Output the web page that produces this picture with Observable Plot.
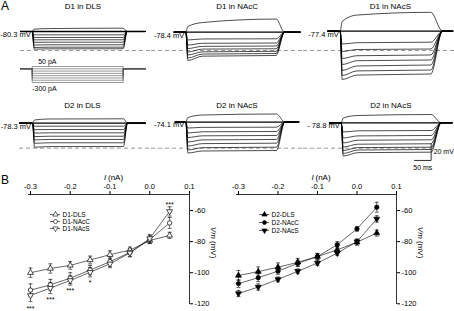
<!DOCTYPE html>
<html><head><meta charset="utf-8">
<script src="https://cdn.jsdelivr.net/npm/d3@7"></script>
<script src="https://cdn.jsdelivr.net/npm/@observablehq/plot@0.6"></script>
<style>
html,body{margin:0;padding:0;background:#fff;}
#fig{position:relative;width:454px;height:311px;overflow:hidden;font-family:"Liberation Sans",Arial,sans-serif;color:#000;}
.letter{position:absolute;font-size:12px;line-height:12px;}
</style></head><body><div id="fig"></div>
<script>
// ---------------- Part A : voltage traces ----------------
const cellTitles = [["D1 in DLS","D1 in NAcC","D1 in NAcS"],["D2 in DLS","D2 in NAcS","D2 in NAcS"]];
const restLabels = [["-80.3 mV","-78.4 mV","-77.4 mV"],["-78.3 mV","-74.1 mV","- 78.8 mV"]];
const traceStart = [[60,68,73],[57,71,78]];
const stepOn     = [[95,103,110],[96,103,113]];
const stepOff    = [[368,374,382],[369,375,383]];
const traceEnd   = [[435,446,448],[435,442,446]];
const recoverMs  = [[12,25,35],[12,25,30]];
const sampleMs   = [6,50];           // sample times after onset for early / mid values
// drawn resting level (mV, row-shared scale)
const restVm = [[-80.3,-81.1,-79.9],[-78.3,-76.9,-77.8]];
// membrane potential per sweep: early (sag), mid, end of step  (mV)
const vEarly = [
  [-77.5,-84.3,-87.6,-90.4,-93.4,-96.6,-99.6,-101.6],
  [-74.3,-90.5,-96.6,-100.8,-105.0,-108.6,-112.2,-115.2],
  [-68.3,-95.4,-104.4,-112.8,-120.1,-127.3,-133.3,-138.1],
  [-74.4,-82.0,-86.1,-90.2,-94.4,-98.4,-102.5,-107.2],
  [-71.4,-84.1,-90.1,-95.5,-100.9,-105.8,-110.6,-114.2],
  [-72.0,-88.9,-96.1,-102.1,-107.0,-111.2,-114.8,-117.8]];
const vMid = [
  [-76.8,-84.3,-87.5,-90.3,-93.2,-96.3,-99.2,-101.2],
  [-69.5,-89.3,-94.5,-98.2,-101.5,-104.8,-107.5,-110.0],
  [-60.5,-93.8,-102.0,-109.5,-115.5,-121.8,-127.8,-132.8],
  [-73.2,-81.9,-85.9,-89.9,-94.0,-97.9,-101.9,-106.5],
  [-68.4,-83.3,-88.6,-93.5,-98.4,-102.9,-107.8,-111.8],
  [-69.0,-87.5,-93.6,-98.8,-103.6,-107.7,-110.6,-113.8]];
const vEnd = [
  [-76.3,-84.3,-87.5,-90.3,-93.2,-96.3,-99.2,-101.1],
  [-65.3,-89.1,-94.2,-97.8,-101.1,-104.2,-106.8,-109.2],
  [-57.2,-93.2,-101.4,-108.6,-114.6,-120.7,-126.7,-131.5],
  [-73.0,-81.9,-85.9,-89.9,-94.0,-97.9,-101.9,-106.4],
  [-67.2,-83.1,-88.3,-93.1,-97.9,-102.4,-107.2,-111.2],
  [-67.8,-87.1,-93.1,-98.3,-103.1,-107.2,-110.0,-113.2]];
const dashVm   = [-103.2,-108.4];
const dashFrom = [[60,0,0],[57,0,0]];
const dashTo   = [[454,454,454],[454,454,383]];
const rowTop = [0,98], rowHeight = [95,72];
const rowYDomain = [[-157.4,-42.95],[-135.3,-48.5]];
const cellMs = [0,454];
const scaleBar = {t1:333, t2:383, v1:-123.2, v2:-103.2, vLabel:"20 mV", tLabel:"50 ms"};

// current step inset (pA)
const injected_pA = [50,0,-50,-100,-150,-200,-250,-300];

// ---------------- Part B : I–V curves ----------------
const currentNA = [-0.3,-0.25,-0.2,-0.15,-0.1,-0.05,0,0.05];
const d1Names = ["D1-DLS","D1-NAcC","D1-NAcS"];
const d1DLS  = [-100,-97.3,-95.3,-91.8,-88.4,-85.5,-79.3,-76];
const d1NAcC = [-111.2,-107.8,-103.5,-98.3,-92.9,-87,-78.7,-68];
const d1NAcS = [-114.6,-109.9,-105,-99.7,-94.3,-87.3,-78,-60.6];
const d1DLSErr  = [3,3,2.5,2.5,2.5,2,2,2];
const d1NAcCErr = [4,3.5,3.5,3,3,2.5,2.5,3.5];
const d1NAcSErr = [4,3.5,3,3,2.5,2.5,2.5,3];
const d2Names = ["D2-DLS","D2-NAcC","D2-NAcS"];
const d2DLS  = [-101.8,-99.3,-96.5,-93.3,-89.6,-85.3,-80.4,-74.5];
const d2NAcC = [-107,-103.2,-99,-94,-89.6,-82,-71.8,-57.9];
const d2NAcS = [-113.4,-109.2,-104.3,-99.1,-93.8,-87.4,-80,-65.4];
const d2DLSErr  = [3.2,3,2.8,2.5,2,2,2,2];
const d2NAcCErr = [2.5,2.5,2,2,2,2,1.5,3.2];
const d2NAcSErr = [2,2,1.5,1.5,1.5,1.5,1.5,2];
const starNA   = [-0.3,-0.25,-0.2,-0.15,0.05];
const starText = ["***","***","***","*","***"];
const starVm   = [-123,-117.3,-111.6,-106.5,-56.5];
const xTicks = [-0.3,-0.2,-0.1,0,0.1];
const yTicks = [-60,-80,-100,-120];
const ivYDomain = [-120.45,-49.7];
const ivXDomain = [-0.305,0.1];

// ---------------- helpers ----------------
const FONT = '"Liberation Sans", Arial, sans-serif';
const fig = document.getElementById("fig");
function place(el, left, top){ el.style.position="absolute"; el.style.left=left+"px"; el.style.top=top+"px"; fig.appendChild(el); }
const triDown = {draw(ctx, size){ const s3=Math.sqrt(3); const y=-Math.sqrt(size/(s3*3)); ctx.moveTo(0,-y*2); ctx.lineTo(-s3*y,y); ctx.lineTo(s3*y,y); ctx.closePath(); }};
const baseStyle = {background:"transparent", overflow:"visible", fontFamily:FONT};

// ---------------- Part A cells ----------------
const cellW = 454/3;
for (let r=0;r<2;r++) for (let c=0;c<3;c++){
  const id = r*3+c;
  const rest = restVm[r][c], on = stepOn[r][c], off = stepOff[r][c];
  const t0 = traceStart[r][c], t1 = traceEnd[r][c], rec = recoverMs[r][c];
  const pts = [];
  vEnd[id].forEach((ve,k)=>{
    [[t0,rest],[on,rest],[on+sampleMs[0],vEarly[id][k]],[on+sampleMs[1],vMid[id][k]],[off,ve],[off+rec,rest],[t1,rest]]
      .forEach(([t,v])=>pts.push({k,t,v}));
  });
  const marks = [
    Plot.ruleY([dashVm[r]], {x1:dashFrom[r][c], x2:dashTo[r][c], stroke:"#808080", strokeWidth:0.8, strokeDasharray:"4,3"}),
    Plot.line(pts, {x:"t", y:"v", z:"k", curve:"monotone-x", stroke:"#000", strokeWidth:0.7}),
    Plot.ruleY([rest], {x1:t0, x2:t1, stroke:"#000", strokeWidth:1.3}),
    Plot.text([cellTitles[r][c]], {x:(t0+t1)/2, frameAnchor:"top", dy: r===0?6:7, lineAnchor:"middle", fontSize:8}),
    Plot.text([restLabels[r][c]], {x:on, y:rest, dx:-1.5, dy:3, textAnchor:"end", lineAnchor:"middle", fontSize:7.5})
  ];
  if (r===1 && c===2){
    marks.push(Plot.line([[scaleBar.t2,scaleBar.v2],[scaleBar.t2,scaleBar.v1],[scaleBar.t1,scaleBar.v1]], {stroke:"#000", strokeWidth:0.8}));
    marks.push(Plot.text([scaleBar.vLabel], {x:scaleBar.t2, y:(scaleBar.v1+scaleBar.v2)/2, dx:2.5, textAnchor:"start", lineAnchor:"middle", fontSize:7}));
    marks.push(Plot.text([scaleBar.tLabel], {x:(scaleBar.t1+scaleBar.t2)/2, y:scaleBar.v1, dy:7, lineAnchor:"middle", fontSize:7}));
  }
  const p = Plot.plot({
    width: cellW, height: rowHeight[r], margin:0,
    x:{domain:cellMs, axis:null}, y:{domain:rowYDomain[r], axis:null},
    style: baseStyle, marks
  });
  place(p, c*cellW, rowTop[r]);
}

// current inset under D1 in DLS
{
  const on = stepOn[0][0], off = stepOff[0][0], t0 = traceStart[0][0], t1 = traceEnd[0][0];
  const pts = [];
  injected_pA.forEach((I,k)=>[[t0,0],[on,0],[on,I],[off,I],[off,0],[t1,0]].forEach(([t,v])=>pts.push({k,t,v})));
  const p = Plot.plot({
    width: cellW, height: 38, margin:0,
    x:{domain:cellMs, axis:null}, y:{domain:[-540,291], axis:null},
    style: baseStyle,
    marks:[
      Plot.line(pts, {x:"t", y:"v", z:"k", stroke:"#555", strokeWidth:0.6}),
      Plot.text(["50 pA"], {x:on, y:injected_pA[0], dx:6, dy:-4.5, textAnchor:"start", lineAnchor:"middle", fontSize:7}),
      Plot.text(["-300 pA"], {x:on, y:injected_pA[injected_pA.length-1], dx:0, dy:6.5, textAnchor:"start", lineAnchor:"middle", fontSize:7})
    ]
  });
  place(p, 0, 55);
}

// ---------------- Part B plots ----------------
function ivPlot(names, series, errs, filled, stars, geom){
  const rows = [];
  series.forEach((s,si)=>s.forEach((v,i)=>rows.push({name:names[si], si, x:currentNA[i], y:v, e:errs[si][i]})));
  const syms = ["triangle","circle",triDown];
  const cap = 0.005;
  const marks = [
    Plot.ruleY([ivYDomain[1]], {stroke:"#000", strokeWidth:0.8}),
    Plot.ruleX([ivXDomain[1]], {stroke:"#000", strokeWidth:0.8}),
    Plot.line(rows, {x:"x", y:"y", z:"name", stroke:"#000", strokeWidth:0.6}),
    Plot.ruleX(rows, {x:"x", y1:d=>d.y-d.e, y2:d=>d.y+d.e, stroke:"#000", strokeWidth:0.6}),
    Plot.link(rows, {x1:d=>d.x-cap, x2:d=>d.x+cap, y1:d=>d.y+d.e, y2:d=>d.y+d.e, stroke:"#000", strokeWidth:0.6}),
    Plot.link(rows, {x1:d=>d.x-cap, x2:d=>d.x+cap, y1:d=>d.y-d.e, y2:d=>d.y-d.e, stroke:"#000", strokeWidth:0.6}),
    ...syms.map((sym,si)=>Plot.dot(rows.filter(d=>d.si===si), {x:"x", y:"y", symbol:sym, r:2.2, stroke:"#000", strokeWidth:0.7, fill: filled?"#000":"#fff"})),
    Plot.text(["I"], {x:-0.1, frameAnchor:"top", dx:-6, dy:-17, textAnchor:"start", lineAnchor:"middle", fontStyle:"italic", fontSize:8}),
    Plot.text(["(nA)"], {x:-0.1, frameAnchor:"top", dx:-2, dy:-17, textAnchor:"start", lineAnchor:"middle", fontSize:8}),
    Plot.text(["Vm"], {x:ivXDomain[1], y:-70.5, dx:24, rotate:90, textAnchor:"start", lineAnchor:"middle", fontStyle:"italic", fontSize:8}),
    Plot.text(["(mV)"], {x:ivXDomain[1], y:-79.6, dx:24, rotate:90, textAnchor:"start", lineAnchor:"middle", fontSize:8})
  ];
  if (stars) marks.push(Plot.text(stars.text, {x:(d,i)=>stars.x[i], y:(d,i)=>stars.y[i], text:d=>d, fontSize:7, lineAnchor:"middle"}));
  return Plot.plot({
    width: geom.width, height: 141, marginTop: 24, marginBottom: 7, marginLeft: geom.ml, marginRight: geom.mr,
    x:{domain:ivXDomain, axis:"top", ticks:xTicks, tickFormat:d=>d.toFixed(1), tickSize:4, tickPadding:2, label:null},
    y:{domain:ivYDomain, axis:"right", ticks:yTicks, tickFormat:d=>String(d), tickSize:3, tickPadding:2, label:null},
    style: {...baseStyle, fontSize:"7.5px"},
    marks
  });
}
function legendPlot(names, filled, rowsRange){
  const syms = ["triangle","circle",triDown];
  return Plot.plot({
    width: 60, height: 30, margin:0,
    x:{domain:[0,1], range:[5,15], axis:null},
    y:{type:"point", domain:names, range:rowsRange, padding:0, axis:null},
    style: {...baseStyle, fontSize:"6.5px"},
    marks:[
      Plot.ruleY(names, {y:d=>d, x1:0, x2:1, stroke:"#000", strokeWidth:0.6}),
      ...syms.map((sym,si)=>Plot.dot([names[si]], {x:0.5, y:d=>d, symbol:sym, r:2, stroke:"#000", strokeWidth:0.6, fill: filled?"#000":"#fff"})),
      Plot.text(names, {x:1, y:d=>d, text:d=>d, dx:2, textAnchor:"start", lineAnchor:"middle"})
    ]
  });
}
place(ivPlot(d1Names, [d1DLS,d1NAcC,d1NAcS], [d1DLSErr,d1NAcCErr,d1NAcSErr], false,
  {x:starNA, y:starVm, text:starText}, {width:232, ml:28, mr:43}), 0, 170);
place(ivPlot(d2Names, [d2DLS,d2NAcC,d2NAcS], [d2DLSErr,d2NAcCErr,d2NAcSErr], true,
  null, {width:227, ml:9, mr:58}), 227, 170);
place(legendPlot(d1Names, false, [6.3,22]), 45, 207);
place(legendPlot(d2Names, true, [6,23]), 254, 207);

// panel letters
for (const [t,l,tp] of [["A",1,0],["B",1,174]]){ const d=document.createElement("div"); d.className="letter"; d.textContent=t; d.style.left=l+"px"; d.style.top=tp+"px"; fig.appendChild(d); }
</script></body></html>
